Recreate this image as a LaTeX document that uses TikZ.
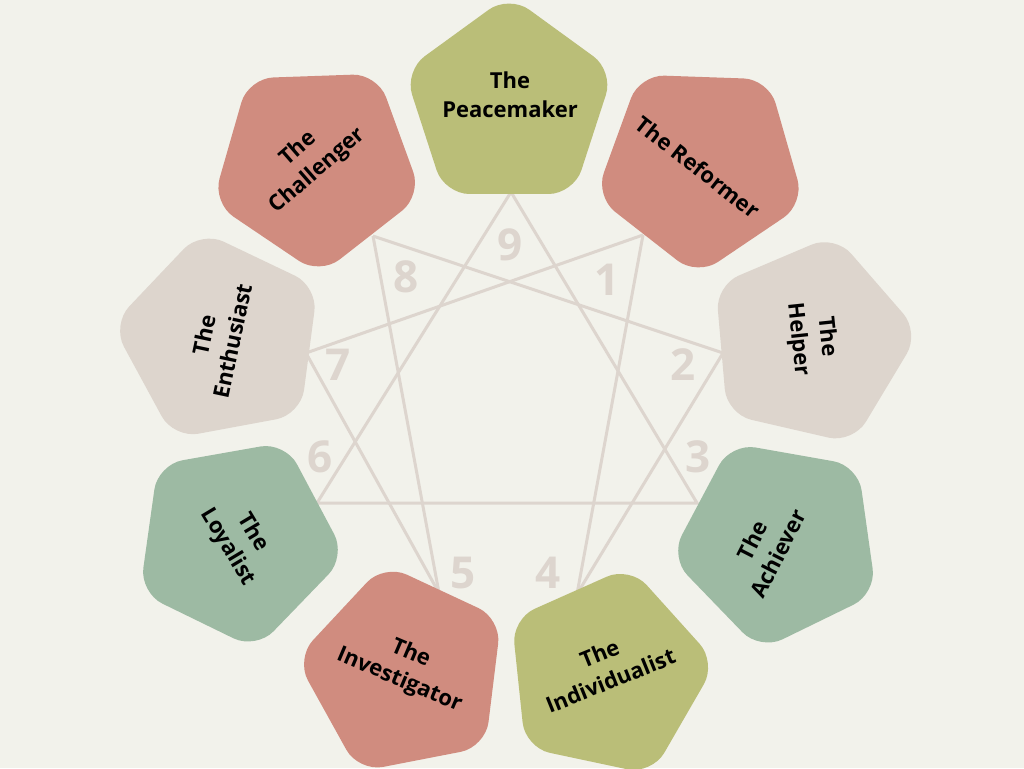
\documentclass[tikz,border=0pt]{standalone}
\usepackage{fontspec}
\setmainfont{Open Sans}
\definecolor{bg}{HTML}{F2F2EB}
\definecolor{salmon}{HTML}{D08C7F}
\definecolor{olive}{HTML}{BABE78}
\definecolor{beige}{HTML}{DDD5CD}
\definecolor{sage}{HTML}{9DBAA3}
\definecolor{linec}{HTML}{DDD5CE}
\newcommand\pentagon[4]{%
  \fill[#4, rounded corners=25pt, shift={(#1,#2)}]
    ({-(#3)}:110) -- ({-(#3)-72}:110) -- ({-(#3)-144}:110) --
    ({-(#3)-216}:110) -- ({-(#3)-288}:110) -- cycle;}
\begin{document}
\begin{tikzpicture}[x=1pt,y=-1pt,
  lbl/.style={font=\bfseries\fontsize{22}{29}\selectfont, align=center, text=black, inner sep=0pt},
  num/.style={font=\bfseries\fontsize{44}{44}\selectfont, text=linec, inner sep=0pt},
  edge/.style={draw=linec, line width=3pt}]
\fill[bg] (0,0) rectangle (1024,768);
\useasboundingbox (0,0) rectangle (1024,768);
% enneagram points
\coordinate (p9) at (511,192);
\coordinate (p1) at (643,235);
\coordinate (p2) at (723,353);
\coordinate (p3) at (697,503);
\coordinate (p4) at (577,594);
\coordinate (p5) at (439,593);
\coordinate (p6) at (317,503);
\coordinate (p7) at (306,353);
\coordinate (p8) at (373,236);
\draw[edge] (p9) -- (p3) -- (p6) -- cycle;
\draw[edge] (p1) -- (p4);
\draw[edge] (p4) -- (p2);
\draw[edge] (p2) -- (p8);
\draw[edge] (p8) -- (p5);
\draw[edge] (p5) -- (p7);
\draw[edge] (p7) -- (p1);
% pentagons
\pentagon{509}{105}{18}{olive}
\pentagon{701}{166}{52}{salmon}
\pentagon{810}{342}{5}{beige}
\pentagon{779}{542}{44}{sage}
\pentagon{607}{674}{6}{olive}
\pentagon{405}{672}{29}{salmon}
\pentagon{237}{541}{64}{sage}
\pentagon{221}{339}{28.5}{beige}
\pentagon{316}{165}{56}{salmon}
% labels
\node[lbl] (t9) at (510,95) {The\\Peacemaker};
\node[lbl, rotate=-38] (t1) at (698,167) {The Reformer};
\node[lbl, rotate=-84] (t2) at (812,338) {The\\Helper};
\node[lbl, rotate=63] (t3) at (765,547) {The\\Achiever};
\node[lbl, rotate=22] (t4) at (605,667) {The\\Individualist};
\node[lbl, rotate=-23] (t5) at (405,667) {The\\Investigator};
\node[lbl, rotate=-59] (t6) at (240,540) {The\\Loyalist};
\node[lbl, rotate=78] (t7) at (218,338) {The\\Enthusiast};
\node[lbl, rotate=41] (t8) at (308,160) {The\\Challenger};
% numbers
\node[num] (n9) at (510,245) {9};
\node[num] (n8) at (406,277) {8};
\node[num] (n1) at (607,280) {1};
\node[num] (n7) at (338,365) {7};
\node[num] (n2) at (683,365) {2};
\node[num] (n6) at (320,457) {6};
\node[num] (n3) at (698,457) {3};
\node[num] (n5) at (463,573) {5};
\node[num] (n4) at (548,573) {4};
\end{tikzpicture}
\end{document}
